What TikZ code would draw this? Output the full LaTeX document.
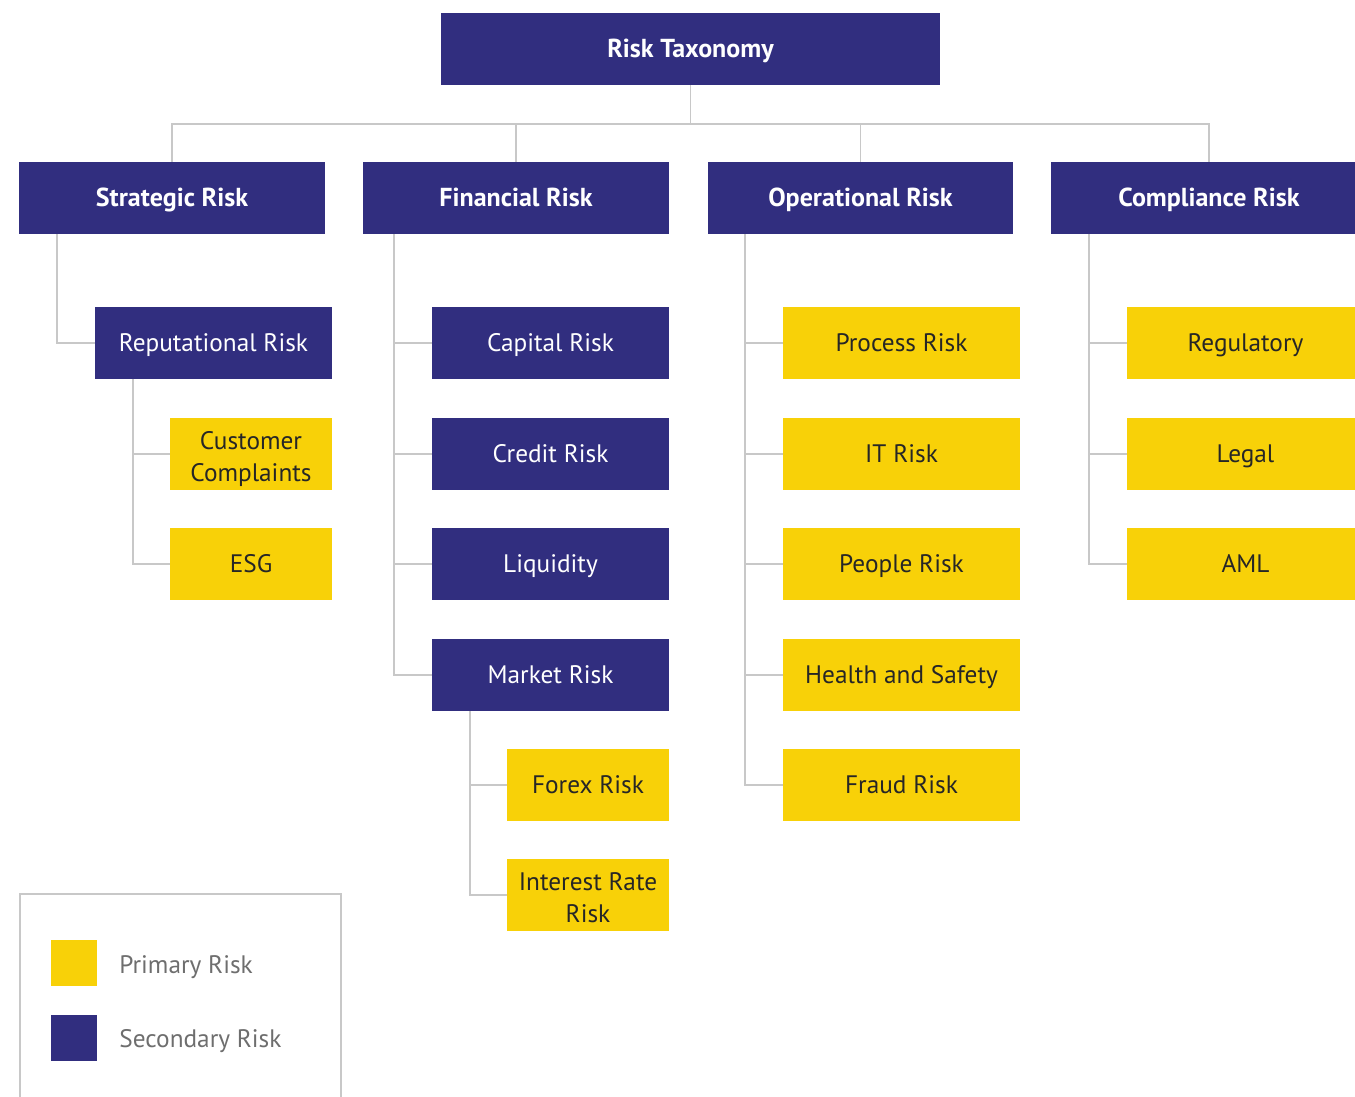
\documentclass[tikz,border=0pt]{standalone}
\usepackage{fontspec}
\setmainfont{PT Sans}
\definecolor{rtnavy}{HTML}{312E7F}
\definecolor{rtyellow}{HTML}{F8D108}
\definecolor{rtline}{HTML}{C8C8C8}
\definecolor{rtgrey}{HTML}{6E6E6E}
\tikzset{
  rt/.style={x=0.02cm, y=-0.02cm, every node/.style={rectangle, inner sep=0pt, minimum height=1.44cm, align=center,
             text height=2.1ex, text depth=0.2ex, font=\fontsize{14.4}{18}\selectfont}},
  sec/.style={fill=rtnavy, text=white},
  prim/.style={fill=rtyellow, text=black!85},
  head/.style={sec, font=\fontsize{14.8}{18}\selectfont\bfseries, minimum width=6.12cm},
  wide/.style={minimum width=4.74cm},
  narrow/.style={minimum width=3.24cm},
  twoline/.style={text height=32pt, text depth=1pt},
  tie/.style={draw=rtline, line width=1pt},
  swatch/.style={minimum width=0.92cm, minimum height=0.92cm}
}

\begin{document}
\begin{tikzpicture}[rt]
\useasboundingbox (0,0) rectangle (1355,1097);
% top and first level
\node[head, minimum width=9.98cm] (root) at (690.5,49) {Risk Taxonomy};
\node[head] (strat) at (172,198) {Strategic Risk};
\node[head] (fin) at (516,198) {Financial Risk};
\node[head] (oper) at (860.5,198) {Operational Risk};
\node[head, minimum width=6.32cm] (comp) at (1209,198) {Compliance Risk};
\coordinate (bus) at (690,124);
\draw[tie] (root.south) -- (root.south |- bus);
\draw[tie] (strat.north) -- (strat.north |- bus) -| (comp.north);
\draw[tie] (fin.north) -- (fin.north |- bus);
\draw[tie] (oper.north) -- (oper.north |- bus);
% strategic
\node[sec, wide] (rep) at (213.5,343) {Reputational Risk};
\node[prim, narrow, twoline] (cust) at (251,454) {Customer\\Complaints};
\node[prim, narrow] (esg) at (251,564) {ESG};
\draw[tie] ([xshift=0.76cm]strat.south west) |- (rep.west);
\foreach \n in {cust,esg} \draw[tie] ([xshift=0.76cm]rep.south west) |- (\n.west);
% financial
\node[sec, wide] (cap) at (550.5,343) {Capital Risk};
\node[sec, wide] (cred) at (550.5,454) {Credit Risk};
\node[sec, wide] (liq) at (550.5,564) {Liquidity};
\node[sec, wide] (mkt) at (550.5,675) {Market Risk};
\node[prim, narrow] (fx) at (588,785) {Forex Risk};
\node[prim, narrow, twoline] (ir) at (588,895) {Interest Rate\\Risk};
\foreach \n in {cap,cred,liq,mkt} \draw[tie] ([xshift=0.62cm]fin.south west) |- (\n.west);
\foreach \n in {fx,ir} \draw[tie] ([xshift=0.76cm]mkt.south west) |- (\n.west);
% operational
\node[prim, wide] (proc) at (901.5,343) {Process Risk};
\node[prim, wide] (it) at (901.5,454) {IT Risk};
\node[prim, wide] (ppl) at (901.5,564) {People Risk};
\node[prim, wide] (hs) at (901.5,675) {Health and Safety};
\node[prim, wide] (fraud) at (901.5,785) {Fraud Risk};
\foreach \n in {proc,it,ppl,hs,fraud} \draw[tie] ([xshift=0.76cm]oper.south west) |- (\n.west);
% compliance
\node[prim, wide] (reg) at (1245.5,343) {Regulatory};
\node[prim, wide] (legal) at (1245.5,454) {Legal};
\node[prim, wide] (aml) at (1245.5,564) {AML};
\foreach \n in {reg,legal,aml} \draw[tie] ([xshift=0.76cm]comp.south west) |- (\n.west);
% legend
\draw[tie] (20,1110) -- (20,894) -- (341,894) -- (341,1110);
\node[prim, swatch] (keyp) at (74,963) {};
\node[sec, swatch] (keys) at (74,1038) {};
\node[anchor=west, minimum height=0pt, text=rtgrey] (keyptext) at (119,965) {Primary Risk};
\node[anchor=west, minimum height=0pt, text=rtgrey] (keystext) at (119,1039) {Secondary Risk};
\end{tikzpicture}
\end{document}
